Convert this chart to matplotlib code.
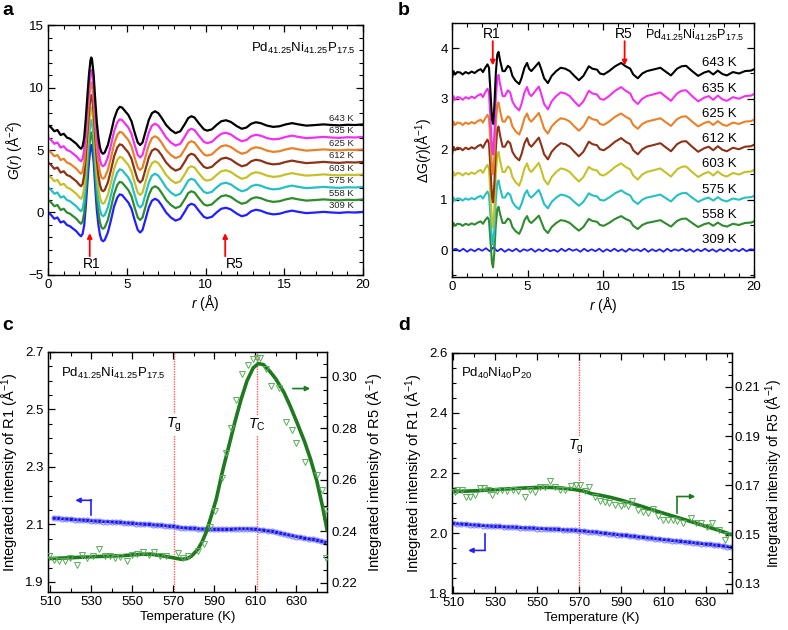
import numpy as np
import matplotlib
matplotlib.use('Agg')
import matplotlib.pyplot as plt
from matplotlib.ticker import MultipleLocator, FixedLocator, FormatStrFormatter

plt.rcParams['font.family'] = ['Liberation Sans', 'DejaVu Sans']
plt.rcParams['mathtext.fontset'] = 'custom'
plt.rcParams['mathtext.rm'] = 'Liberation Sans'
plt.rcParams['mathtext.it'] = 'Liberation Sans:italic'
plt.rcParams['mathtext.bf'] = 'Liberation Sans:bold'

# ---------------- data: panel a (G(r)) ----------------
r_a = [0.0, 0.2, 0.4, 0.6, 0.8, 1.0, 1.2, 1.4, 1.6, 1.8, 2.0, 2.1, 2.2, 2.3, 2.4, 2.5,
       2.6, 2.7, 2.75, 2.8, 2.9, 3.0, 3.1, 3.2, 3.3, 3.4, 3.5, 3.6, 3.8, 4.0, 4.2, 4.4,
       4.55, 4.7, 4.9, 5.1, 5.3, 5.5, 5.7, 5.85, 6.0, 6.2, 6.4, 6.6, 6.8, 7.0, 7.2, 7.5,
       7.8, 8.1, 8.4, 8.7, 8.9, 9.1, 9.3, 9.6, 9.9, 10.1, 10.4, 10.7, 11.0, 11.3, 11.6,
       12.0, 12.3, 12.6, 12.9, 13.2, 13.5, 13.9, 14.3, 14.7, 15.1, 15.5, 15.9, 16.4,
       17.0, 17.5, 18.0, 18.5, 19.0, 19.5, 20.0]
g_base = [0.0, -0.2, -0.5, -0.4, -0.8, -0.7, -1.0, -1.1, -1.3, -1.5, -1.8, -1.9, -1.7,
          -1.0, 0.5, 2.3, 4.0, 5.2, 5.4, 5.2, 4.0, 2.0, 0.2, -1.0, -1.8, -2.2, -2.3, -2.2,
          -1.6, -0.6, 0.5, 1.2, 1.45, 1.4, 1.1, 0.8, 0.3, -0.6, -1.4, -1.6, -1.4, -0.5,
          0.4, 0.95, 1.1, 0.95, 0.6, 0.0, -0.4, -0.65, -0.5, 0.1, 0.55, 0.7, 0.6, 0.1,
          -0.35, -0.45, -0.35, 0.0, 0.3, 0.38, 0.25, -0.1, -0.3, -0.2, 0.1, 0.22, 0.15,
          -0.05, -0.15, -0.1, 0.05, 0.15, 0.05, -0.05, 0.0, 0.05, 0.0, -0.03, 0.02, 0.0, 0.05]
temps = ['309 K', '558 K', '575 K', '603 K', '612 K', '625 K', '635 K', '643 K']
offsets_a = [0, 1, 2, 3, 4, 5, 6, 7]
colors = ['#2020ff', '#2e8b2e', '#26c0c4', '#c6c02a', '#8b3217', '#e8822a', '#f032f0', '#000000']

# ---------------- data: panel b (Delta G(r)) ----------------
r_b = [0.0, 0.1, 0.2, 0.35, 0.55, 0.7, 0.9, 1.1, 1.3, 1.5, 1.7, 1.9, 2.05, 2.2, 2.35,
       2.45, 2.55, 2.65, 2.72, 2.8, 2.9, 3.0, 3.08, 3.2, 3.35, 3.5, 3.7, 3.85, 4.0, 4.2,
       4.45, 4.6, 4.8, 4.97, 5.1, 5.25, 5.45, 5.75, 5.9, 6.1, 6.35, 6.6, 6.9, 7.2, 7.5,
       7.8, 8.1, 8.4, 8.7, 9.06, 9.3, 9.6, 9.8, 10.05, 10.4, 10.8, 11.2, 11.5, 11.8, 12.0,
       12.3, 12.6, 12.9, 13.3, 13.8, 14.1, 14.5, 14.9, 15.2, 15.5, 15.9, 16.3, 16.7, 17.0,
       17.3, 17.6, 17.9, 18.2, 18.6, 19.0, 19.4, 19.8, 20.0]
dg_base = [-0.10, 0.05, -0.02, 0.03, 0.02, -0.02, 0.03, 0.0, 0.04, 0.01, 0.06, 0.09, 0.03,
           0.12, 0.19, 0.12, -0.4, -0.95, -1.05, -0.7, 0.0, 0.4, 0.45, 0.25, 0.05, 0.05,
           0.16, 0.12, -0.05, -0.15, -0.22, -0.1, 0.12, 0.22, 0.1, 0.05, 0.12, 0.23, 0.1,
           -0.1, -0.2, -0.05, 0.05, 0.12, 0.1, 0.05, -0.05, -0.14, -0.05, 0.15, 0.1, 0.08,
           0.0, -0.02, 0.05, 0.15, 0.22, 0.15, 0.1, -0.02, -0.1, 0.0, 0.05, 0.08, 0.12, 0.05,
           -0.04, 0.1, 0.15, 0.16, 0.05, -0.05, 0.02, 0.05, -0.02, 0.06, -0.01, -0.04, 0.03,
           0.0, 0.05, 0.06, 0.09]
dg_309 = [0.00, 0.03, -0.02, 0.03, -0.03, 0.02, -0.02, 0.03, -0.01, 0.04, -0.02, 0.06,
          -0.02, 0.03, -0.03, 0.02, -0.02, 0.03, -0.03, 0.02, -0.01, 0.03, -0.03, 0.02,
          -0.02, 0.03, -0.02, 0.01, -0.03, 0.03, -0.02, 0.03, -0.01, 0.02, -0.03, 0.03,
          -0.02, 0.02, -0.02, 0.03, -0.03, 0.02, -0.02, 0.03, -0.02, 0.02, -0.03, 0.03,
          -0.01, 0.02, -0.02, 0.03, -0.03, 0.02, -0.02, 0.02, -0.03, 0.03, -0.02, 0.02,
          -0.01, 0.03, -0.02, 0.02, -0.03, 0.02, -0.02, 0.03, -0.02, 0.02, -0.03, 0.02,
          -0.02, 0.03, -0.02, 0.02, -0.02, 0.03, -0.02, 0.02, 0.01]
offsets_b = [0.0, 0.5, 1.0, 1.5, 2.0, 2.5, 3.0, 3.5]
amps_b = [0.0, 0.8, 0.85, 1.0, 1.0, 0.95, 1.05, 0.95]

# ---------------- data: panel c ----------------
T_c_r1 = list(range(512, 645, 2))
r1_c = [2.122, 2.121, 2.120, 2.119, 2.118, 2.117, 2.116, 2.115, 2.114, 2.113, 2.112, 2.111,
        2.110, 2.110, 2.109, 2.108, 2.107, 2.106, 2.105, 2.104, 2.103, 2.102, 2.101, 2.100,
        2.099, 2.098, 2.097, 2.096, 2.094, 2.093, 2.091, 2.089, 2.088, 2.087, 2.086, 2.085,
        2.084, 2.084, 2.083, 2.083, 2.083, 2.083, 2.083, 2.083, 2.084, 2.085, 2.085, 2.085,
        2.084, 2.083, 2.082, 2.080, 2.078, 2.076, 2.073, 2.070, 2.067, 2.064, 2.061, 2.058,
        2.055, 2.052, 2.050, 2.048, 2.045, 2.042, 2.038]
T_c_r5 = [509.7, 512.1, 514.6, 517.1, 519.6, 522.9, 525.8, 528.2, 531.1, 533.9, 536.9,
          539.4, 541.8, 544.3, 547.3, 550.1, 552.6, 555.5, 558.3, 560.8, 563.8, 566.6,
          572.4, 574.9, 577.3, 582.3, 585.2, 588.1, 590.5, 593.8, 595.8, 598.4, 600.8,
          603.6, 606.5, 609.0, 611.0, 612.5, 615.3, 617.8, 621.7, 625.2, 627.7, 630.1,
          634.3, 640.0, 642.5, 644.5, 644.7]
r5_c = [0.2303, 0.2288, 0.2284, 0.2284, 0.2297, 0.2271, 0.2310, 0.2297, 0.2303, 0.2332,
        0.2303, 0.2303, 0.2297, 0.2301, 0.2284, 0.2310, 0.2314, 0.2320, 0.2310, 0.2320,
        0.2303, 0.2306, 0.2316, 0.2297, 0.2303, 0.2323, 0.2351, 0.2419, 0.2480, 0.2606,
        0.2703, 0.2800, 0.2910, 0.3013, 0.3045, 0.3068, 0.3075, 0.3075, 0.3032, 0.2964,
        0.2957, 0.2826, 0.2794, 0.2742, 0.2671, 0.2619, 0.2561, 0.2484, 0.2297]
T_c_fit = [510, 520, 530, 545, 555, 560, 565, 570, 574, 577, 579, 582, 584, 586, 588, 591,
           594, 597, 600, 603, 606, 609, 611.5, 614, 617, 620, 624, 627, 630, 634, 637, 640,
           643, 645]
r5_c_fit = [0.2295, 0.2298, 0.2302, 0.2306, 0.2312, 0.2311, 0.2305, 0.2298, 0.2292, 0.2295,
            0.2305, 0.2330, 0.2358, 0.2395, 0.2445, 0.2525, 0.2632, 0.2727, 0.2822, 0.2910,
            0.2985, 0.3035, 0.3052, 0.3048, 0.3023, 0.2993, 0.2940, 0.2888, 0.2830, 0.2750,
            0.2680, 0.2597, 0.2490, 0.2407]
Tg_c, Tc_c = 570.5, 611.0

# ---------------- data: panel d ----------------
T_d_r1 = list(range(510, 643, 2))
r1_d = [2.032, 2.031, 2.030, 2.029, 2.028, 2.027, 2.026, 2.025, 2.024, 2.023, 2.022, 2.022,
        2.021, 2.020, 2.020, 2.019, 2.018, 2.017, 2.017, 2.016, 2.015, 2.015, 2.014, 2.013,
        2.013, 2.012, 2.011, 2.010, 2.010, 2.009, 2.008, 2.007, 2.005, 2.004, 2.003, 2.001,
        1.999, 1.998, 1.996, 1.995, 1.993, 1.992, 1.990, 1.989, 1.987, 1.986, 1.984, 1.983,
        1.981, 1.980, 1.978, 1.977, 1.975, 1.974, 1.972, 1.971, 1.969, 1.968, 1.966, 1.965,
        1.963, 1.962, 1.960, 1.959, 1.957, 1.955, 1.953]
T_d_r5 = [510.8, 511.9, 514.3, 516.1, 518.2, 520.6, 522.9, 524.5, 526.5, 528.7, 530.8,
          533.1, 535.5, 538.7, 541.0, 544.2, 546.5, 548.9, 551.3, 553.6, 556.0, 558.3,
          560.7, 563.1, 566.2, 568.6, 570.2, 572.5, 574.6, 577.2, 579.6, 582.0, 584.3,
          586.7, 589.8, 591.4, 593.0, 594.9, 597.7, 600.1, 602.4, 604.8, 607.2, 609.5,
          611.9, 614.3, 616.6, 619.0, 622.9, 625.3, 627.6, 630.8, 633.1, 636.3, 639.4, 640.2]
r5_d = [0.1672, 0.1682, 0.1682, 0.1655, 0.1655, 0.1662, 0.1689, 0.1689, 0.1682, 0.1662,
        0.1676, 0.1682, 0.1676, 0.1682, 0.1676, 0.1655, 0.1682, 0.1672, 0.1693, 0.1693,
        0.1716, 0.1695, 0.1682, 0.1682, 0.1699, 0.1703, 0.1703, 0.1676, 0.1693, 0.1655,
        0.1635, 0.1631, 0.1628, 0.1621, 0.1615, 0.1625, 0.1615, 0.1635, 0.1601, 0.1594,
        0.1587, 0.1604, 0.1577, 0.1558, 0.1558, 0.1560, 0.1554, 0.1547, 0.1567, 0.1547,
        0.1547, 0.1533, 0.1547, 0.1520, 0.1479, 0.1499]
T_d_fit = [510, 520, 530, 540, 550, 556, 562, 568, 572, 576, 580, 585, 590, 595, 600, 605,
           610, 615, 620, 625, 630, 635, 640, 642.5]
r5_d_fit = [0.1675, 0.1678, 0.1683, 0.1688, 0.1692, 0.1692, 0.1689, 0.1683, 0.1677, 0.1666,
            0.1660, 0.1651, 0.1640, 0.1627, 0.1614, 0.1600, 0.1587, 0.1574, 0.1561, 0.1548,
            0.1534, 0.1521, 0.1507, 0.1500]
Tg_d = 570.0

# ---------------- figure ----------------
fig = plt.figure(figsize=(7.88, 6.30), dpi=100)
ax_a = fig.add_axes([0.0609, 0.5635, 0.3998, 0.3968])
ax_b = fig.add_axes([0.5736, 0.5603, 0.3833, 0.4032])
ax_c = fig.add_axes([0.0609, 0.0603, 0.3541, 0.3810])
ax_d = fig.add_axes([0.5736, 0.0587, 0.3553, 0.3810])

TS = 9.5
def style(ax, right=True, ls=TS):
    ax.tick_params(which='both', direction='in', top=True, right=right, labelsize=ls, pad=3)
    ax.tick_params(which='major', length=5, width=0.9)
    ax.tick_params(which='minor', length=3, width=0.8)
    for s in ax.spines.values():
        s.set_linewidth(1.0)

# panel a
for lab, off, col in zip(temps, offsets_a, colors):
    ax_a.plot(r_a, [g + off for g in g_base], color=col, lw=1.6)
    ax_a.text(19.4, off + 0.55, lab, fontsize=6.8, ha='right', va='center', color='#222222')
ax_a.set_xlim(0, 20)
ax_a.set_ylim(-5, 15)
ax_a.xaxis.set_major_locator(MultipleLocator(5))
ax_a.xaxis.set_minor_locator(MultipleLocator(1))
ax_a.yaxis.set_major_locator(MultipleLocator(5))
ax_a.yaxis.set_minor_locator(MultipleLocator(1))
style(ax_a)
ax_a.set_xlabel(r'$r$ (Å)', fontsize=10, labelpad=1)
ax_a.set_ylabel(r'$G$($r$) (Å$^{-2}$)', fontsize=10, labelpad=2)
ax_a.text(12.9, 13.1, r'Pd$_{41.25}$Ni$_{41.25}$P$_{17.5}$', fontsize=9.5, va='center')
arrow_kw = dict(arrowstyle='-|>', color='red', lw=1.3, mutation_scale=7, shrinkA=0, shrinkB=0)
ax_a.annotate('', xy=(2.65, -1.65), xytext=(2.65, -3.5), arrowprops=arrow_kw)
ax_a.annotate('', xy=(11.25, -1.65), xytext=(11.25, -3.5), arrowprops=arrow_kw)
ax_a.text(2.75, -4.15, 'R1', fontsize=10, ha='center', va='center')
ax_a.text(11.85, -4.15, 'R5', fontsize=10, ha='center', va='center')

# panel b
for i, (lab, off, col, amp) in enumerate(zip(temps, offsets_b, colors, amps_b)):
    if i == 0:
        xs = np.linspace(0, 20, len(dg_309))
        ax_b.plot(xs, [v + off for v in dg_309], color=col, lw=1.3)
    else:
        ax_b.plot(r_b, [amp * v + off for v in dg_base], color=col, lw=1.5)
    ax_b.text(17.7, off + 0.2, lab, fontsize=9.5, ha='center', va='center')
ax_b.set_xlim(0, 20)
ax_b.set_ylim(-0.53, 4.5)
ax_b.xaxis.set_major_locator(MultipleLocator(5))
ax_b.xaxis.set_minor_locator(MultipleLocator(1))
ax_b.yaxis.set_major_locator(MultipleLocator(1))
ax_b.yaxis.set_minor_locator(MultipleLocator(0.5))
style(ax_b)
ax_b.set_xlabel(r'$r$ (Å)', fontsize=10, labelpad=1)
ax_b.set_ylabel('ΔG(' + r'$r$' + ')(Å$^{-1}$)', fontsize=10, labelpad=4)
ax_b.text(12.8, 4.26, r'Pd$_{41.25}$Ni$_{41.25}$P$_{17.5}$', fontsize=9, va='center')
ax_b.annotate('', xy=(2.7, 3.66), xytext=(2.7, 4.14), arrowprops=arrow_kw)
ax_b.annotate('', xy=(11.43, 3.66), xytext=(11.43, 4.14), arrowprops=arrow_kw)
ax_b.text(2.65, 4.28, 'R1', fontsize=10, ha='center', va='center')
ax_b.text(11.4, 4.28, 'R5', fontsize=10, ha='center', va='center')

# panel c
BLUE_LINE, BLUE_MK = '#1414e6', '#7a7aff'
GREEN_LINE, GREEN_MK = '#1f7a1f', '#5aae5a'
VLINE = '#ff5a5a'
ax_c2 = ax_c.twinx()
ax_c.plot(T_c_r1, r1_c, 'o', ms=3.6, mfc='none', mec=BLUE_MK, mew=0.7, zorder=3)
ax_c.plot(T_c_r1, r1_c, '-', color=BLUE_LINE, lw=2.4, zorder=2)
ax_c2.plot(T_c_r5, r5_c, 'v', ms=4.2, mfc='none', mec=GREEN_MK, mew=0.7, zorder=3)
ax_c2.plot(T_c_fit, r5_c_fit, '-', color=GREEN_LINE, lw=2.6, zorder=2)
ax_c.set_xlim(509, 645)
ax_c.set_ylim(1.865, 2.7)
ax_c2.set_ylim(0.2165, 0.3097)
ax_c.xaxis.set_major_locator(FixedLocator([510, 530, 550, 570, 590, 610, 630]))
ax_c.xaxis.set_minor_locator(MultipleLocator(10))
ax_c.yaxis.set_major_locator(FixedLocator([1.9, 2.1, 2.3, 2.5, 2.7]))
ax_c.yaxis.set_minor_locator(MultipleLocator(0.05))
ax_c2.yaxis.set_major_locator(FixedLocator([0.22, 0.24, 0.26, 0.28, 0.30]))
ax_c2.yaxis.set_minor_locator(MultipleLocator(0.005))
ax_c2.yaxis.set_major_formatter(FormatStrFormatter('%.2f'))
style(ax_c, right=False, ls=9.5)
ax_c2.tick_params(which='both', direction='in', labelsize=9.5)
ax_c2.tick_params(which='major', length=5, width=0.9)
ax_c2.tick_params(which='minor', length=3, width=0.8)
ax_c.set_xlabel('Temperature (K)', fontsize=9.5, labelpad=2)
ax_c.set_ylabel('Integrated intensity of R1 (Å$^{-1}$)', fontsize=10.5, labelpad=3)
ax_c2.set_ylabel('Integrated intensity of R5 (Å$^{-1}$)', fontsize=10.5, labelpad=5)
for tx in (Tg_c, Tc_c):
    ax_c.axvline(tx, color=VLINE, ls=(0, (1, 0.8)), lw=1.0, zorder=1)
bb = dict(facecolor='white', edgecolor='none', pad=1.5)
ax_c.text(Tg_c, 2.445, r'$T_{\mathrm{g}}$', fontsize=10.5, ha='center', va='center', bbox=bb, zorder=4)
ax_c.text(Tc_c, 2.445, r'$T_{\mathrm{C}}$', fontsize=10.5, ha='center', va='center', bbox=bb, zorder=4)
ax_c.text(515.5, 2.625, r'Pd$_{41.25}$Ni$_{41.25}$P$_{17.5}$', fontsize=9.5, va='center')
ax_c.plot([530.2, 530.2], [2.132, 2.184], color='#2020ff', lw=1.2)
ax_c.annotate('', xy=(522.3, 2.184), xytext=(530.2, 2.184),
              arrowprops=dict(arrowstyle='-|>', color='#2020ff', lw=1.2, mutation_scale=7,
                              shrinkA=0, shrinkB=0))
ax_c2.annotate('', xy=(636.8, 0.2955), xytext=(628.3, 0.2955),
               arrowprops=dict(arrowstyle='-|>', color=GREEN_LINE, lw=1.2, mutation_scale=7,
                               shrinkA=0, shrinkB=0))

# panel d
ax_d2 = ax_d.twinx()
ax_d.plot(T_d_r1, r1_d, 'o', ms=3.6, mfc='none', mec=BLUE_MK, mew=0.7, zorder=3)
ax_d.plot(T_d_r1, r1_d, '-', color=BLUE_LINE, lw=2.4, zorder=2)
ax_d2.plot(T_d_r5, r5_d, 'v', ms=4.2, mfc='none', mec=GREEN_MK, mew=0.7, zorder=3)
ax_d2.plot(T_d_fit, r5_d_fit, '-', color=GREEN_LINE, lw=2.6, zorder=2)
ax_d.set_xlim(509.5, 642.5)
ax_d.set_ylim(1.8, 2.6)
ax_d2.set_ylim(0.1263, 0.2238)
ax_d.xaxis.set_major_locator(FixedLocator([510, 530, 550, 570, 590, 610, 630]))
ax_d.xaxis.set_minor_locator(MultipleLocator(10))
ax_d.yaxis.set_major_locator(FixedLocator([1.8, 2.0, 2.2, 2.4, 2.6]))
ax_d.yaxis.set_minor_locator(MultipleLocator(0.05))
ax_d.yaxis.set_major_formatter(FormatStrFormatter('%.1f'))
ax_d2.yaxis.set_major_locator(FixedLocator([0.13, 0.15, 0.17, 0.19, 0.21]))
ax_d2.yaxis.set_minor_locator(MultipleLocator(0.005))
ax_d2.yaxis.set_major_formatter(FormatStrFormatter('%.2f'))
style(ax_d, right=False, ls=9.5)
ax_d2.tick_params(which='both', direction='in', labelsize=9.5, pad=2)
ax_d2.tick_params(which='major', length=5, width=0.9)
ax_d2.tick_params(which='minor', length=3, width=0.8)
ax_d.set_xlabel('Temperature (K)', fontsize=9.5, labelpad=2)
ax_d.set_ylabel('Integrated intensity of R1 (Å$^{-1}$)', fontsize=10.5, labelpad=3)
ax_d2.set_ylabel('Integrated intensity of R5 (Å$^{-1}$)', fontsize=10, labelpad=2)
ax_d.axvline(Tg_d, color=VLINE, ls=(0, (1, 0.8)), lw=1.0, zorder=1)
ax_d.text(Tg_d - 1.5, 2.287, r'$T_{\mathrm{g}}$', fontsize=10.5, ha='center', va='center', bbox=bb, zorder=4)
ax_d.text(514, 2.531, r'Pd$_{40}$Ni$_{40}$P$_{20}$', fontsize=9.5, va='center')
ax_d.plot([525.3, 525.3], [1.996, 1.942], color='#2020ff', lw=1.2)
ax_d.annotate('', xy=(517.2, 1.942), xytext=(525.3, 1.942),
              arrowprops=dict(arrowstyle='-|>', color='#2020ff', lw=1.2, mutation_scale=7,
                              shrinkA=0, shrinkB=0))
ax_d2.plot([616.3, 616.3], [0.1587, 0.1655], color=GREEN_LINE, lw=1.2)
ax_d2.annotate('', xy=(625.1, 0.1655), xytext=(616.3, 0.1655),
               arrowprops=dict(arrowstyle='-|>', color=GREEN_LINE, lw=1.2, mutation_scale=7,
                               shrinkA=0, shrinkB=0))

# panel letters
for x, y, s in [(0.003, 0.997, 'a'), (0.505, 0.997, 'b'), (0.003, 0.497, 'c'), (0.505, 0.497, 'd')]:
    fig.text(x, y, s, fontsize=14, fontweight='bold', va='top', ha='left')

fig.savefig('out.png', dpi=100)
